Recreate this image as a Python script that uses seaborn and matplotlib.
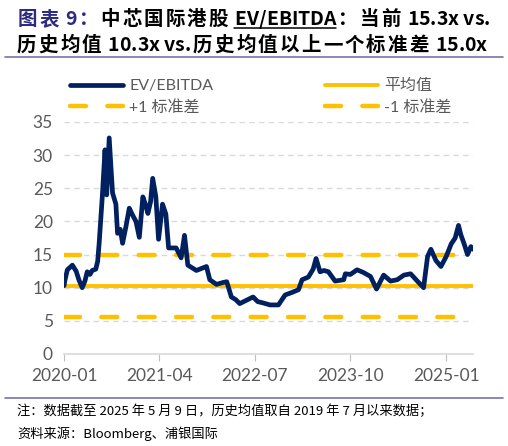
import numpy as np
import pandas as pd
import matplotlib
matplotlib.use("Agg")
import matplotlib.pyplot as plt
import matplotlib.dates as mdates
from matplotlib.lines import Line2D
import seaborn as sns

# EV/EBITDA series
dates = [
    "2020-01-01", "2020-01-06", "2020-01-17", "2020-02-10", "2020-02-28", "2020-03-12",
    "2020-03-28", "2020-04-10", "2020-04-21", "2020-05-04", "2020-05-15", "2020-06-01",
    "2020-06-10", "2020-06-17", "2020-07-02", "2020-07-15", "2020-07-23", "2020-08-04",
    "2020-08-20", "2020-09-05", "2020-09-13", "2020-09-26", "2020-10-07", "2020-10-23",
    "2020-11-08", "2020-11-23", "2020-12-10", "2020-12-26", "2021-01-12", "2021-01-25",
    "2021-02-05", "2021-02-18", "2021-02-28", "2021-03-15", "2021-03-28", "2021-04-16",
    "2021-05-02", "2021-05-15", "2021-06-20", "2021-07-14", "2021-07-30", "2021-08-15",
    "2021-09-25", "2021-11-12", "2021-11-28", "2021-12-30", "2022-02-01", "2022-02-17",
    "2022-03-11", "2022-04-01", "2022-04-20", "2022-05-22", "2022-06-23", "2022-07-15",
    "2022-08-10", "2022-09-12", "2022-10-22", "2022-11-23", "2022-12-27", "2023-01-26",
    "2023-02-12", "2023-03-14", "2023-04-06", "2023-04-20", "2023-05-09", "2023-05-28",
    "2023-06-18", "2023-07-20", "2023-08-30", "2023-09-07", "2023-10-01", "2023-11-02",
    "2023-12-02", "2024-01-05", "2024-02-03", "2024-03-08", "2024-04-10", "2024-05-12",
    "2024-06-13", "2024-07-15", "2024-08-16", "2024-09-15", "2024-10-04", "2024-10-20",
    "2024-11-13", "2024-12-07", "2025-01-01", "2025-01-25", "2025-02-13", "2025-03-01",
    "2025-03-12", "2025-03-28", "2025-04-13", "2025-04-29", "2025-05-09",
]
ev_ebitda = [
    10.3, 11.2, 12.7, 13.4, 12.5, 11.2,
    10.0, 11.0, 12.4, 12.0, 12.6, 12.8,
    14.0, 16.7, 23.7, 30.8, 24.0, 32.6,
    24.3, 22.6, 18.2, 18.8, 16.7, 19.2,
    22.0, 21.0, 20.0, 17.6, 23.7, 22.5,
    21.2, 23.0, 26.5, 23.7, 17.3, 22.6,
    21.1, 16.0, 16.0, 14.5, 17.9, 13.4,
    12.6, 13.2, 11.2, 10.5, 10.8, 10.9,
    8.6, 8.2, 7.6, 8.1, 8.6, 7.9,
    7.7, 7.4, 7.4, 8.9, 9.3, 9.7,
    11.2, 11.6, 12.8, 14.4, 12.4, 12.6,
    12.4, 11.0, 11.2, 12.1, 12.0, 12.7,
    12.3, 11.7, 9.8, 11.9, 11.0, 11.2,
    11.9, 12.1, 11.0, 10.0, 14.7, 15.8,
    14.1, 13.2, 14.7, 16.6, 17.5, 19.4,
    18.0, 16.6, 15.0, 16.2, 15.8,
]
mean_val = 10.3
plus_1sd = 15.0
minus_1sd = 5.6

tick_dates = ["2020-01", "2021-04", "2022-07", "2023-10", "2025-01"]
y_ticks = [0, 5, 10, 15, 20, 25, 30, 35]

df = pd.DataFrame({"date": pd.to_datetime(dates), "value": ev_ebitda})

sns.set_style("white")
plt.rcParams["font.family"] = ["Lato", "Noto Sans CJK SC", "DejaVu Sans"]

navy = "#002060"
gold = "#FFC000"
gray_txt = "#595959"

fig = plt.figure(figsize=(5.08, 4.46), dpi=100)
ax = fig.add_axes([0.126, 0.2063, 0.805, 0.5202])

for y in y_ticks[1:]:
    ax.axhline(y, color="#D9D9D9", lw=1, ls=(0, (4, 3)), zorder=0)

sns.lineplot(data=df, x="date", y="value", ax=ax, color=navy, lw=3.4,
             label="EV/EBITDA", zorder=3)
ax.axhline(mean_val, color=gold, lw=2.8, label="平均值", zorder=2)
ax.axhline(plus_1sd, color=gold, lw=3.2, ls=(0, (3.6, 4.8)),
           dash_capstyle="round", label="+1 标准差", zorder=2)
ax.axhline(minus_1sd, color=gold, lw=3.2, ls=(0, (3.6, 4.8)),
           dash_capstyle="round", label="-1 标准差", zorder=2)

ax.set_xlim(df["date"].iloc[0], df["date"].iloc[-1])
ax.set_ylim(0, 35)
ax.set_yticks(y_ticks)
ax.set_xticks(pd.to_datetime(tick_dates))
ax.xaxis.set_major_formatter(mdates.DateFormatter("%Y-%m"))
ax.set_xlabel("")
ax.set_ylabel("")
ax.tick_params(axis="y", length=0, labelsize=12.5, labelcolor=gray_txt, pad=8)
ax.tick_params(axis="x", length=5, color="#BFBFBF", labelsize=12.5,
               labelcolor=gray_txt, pad=5, direction="out", bottom=True)
for s in ["top", "right", "left"]:
    ax.spines[s].set_visible(False)
ax.spines["bottom"].set_color("#D9D9D9")
ax.spines["bottom"].set_linewidth(1.2)

handles, labels = ax.get_legend_handles_labels()
order = [0, 2, 1, 3]
W, H = fig.get_size_inches() * fig.dpi
leg = fig.legend([handles[i] for i in order], [labels[i] for i in order],
                 loc="upper left", bbox_to_anchor=(70 / W, 1 - 79 / H), ncol=2,
                 frameon=False, fontsize=11.5, handlelength=3.3,
                 columnspacing=7.0, labelspacing=0.42, handletextpad=0.4,
                 borderaxespad=0, borderpad=0)
for t in leg.get_texts():
    t.set_color(gray_txt)
ax.get_legend().remove()

# title, drawn char by char; only the Chinese characters get extra spacing
fig.canvas.draw()
rend = fig.canvas.get_renderer()
title_font = ["Noto Sans CJK SC", "DejaVu Sans"]


def is_cjk(ch):
    return ord(ch) > 0x2E80


def title_line(pieces, y_px, x0, x1, size=14):
    arts = []
    for s, color, ul in pieces:
        for ch in s:
            t = fig.text(0, 1 - y_px / H, ch, fontsize=size, fontweight="bold",
                         color=color, family=title_font, va="baseline", ha="left")
            w = t.get_window_extent(renderer=rend).width
            if ch == " ":
                w = size * 0.3
            arts.append((t, w, ul, ch))
    n_gap = sum(1 for a, b in zip(arts[:-1], arts[1:]) if is_cjk(a[3]) or is_cjk(b[3]))
    total = sum(a[1] for a in arts)
    gap = (x1 - x0 - total) / max(n_gap, 1)
    x = x0
    ul_start = None
    for i, (t, w, ul, ch) in enumerate(arts):
        t.set_x(x / W)
        if ul and ul_start is None:
            ul_start = x
        if ul:
            ul_end = x + w
        x += w
        if i + 1 < len(arts) and (is_cjk(ch) or is_cjk(arts[i + 1][3])):
            x += gap
    if ul_start is not None:
        fig.add_artist(Line2D([ul_start / W, ul_end / W],
                              [1 - (y_px + 3) / H, 1 - (y_px + 3) / H],
                              color="black", lw=1.1))


title_line([("图表 9：", "#2E2A7E", False), ("中芯国际港股 ", "black", False),
            ("EV/EBITDA", "black", True), ("：当前 15.3x vs.", "black", False)],
           25, 18, 490)
title_line([("历史均值 10.3x vs.历史均值以上一个标准差 15.0x", "black", False)],
           51, 17, 487)

for yy in [57, 398]:
    fig.add_artist(Line2D([5 / W, 503 / W], [1 - yy / H, 1 - yy / H],
                          color="#7B72A8", lw=1.2))

fig.text(17 / W, 1 - 415 / H,
         "注：数据截至 2025 年 5 月 9 日，历史均值取自 2019 年 7 月以来数据；",
         fontsize=9.5, color="black", family=title_font, va="baseline")
fig.text(17 / W, 1 - 438 / H, "资料来源：Bloomberg、浦银国际",
         fontsize=9.5, color="black", family=title_font, va="baseline")

fig.savefig("out.png", dpi=100)
